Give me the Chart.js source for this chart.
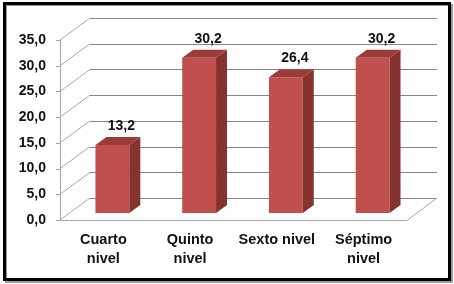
<!DOCTYPE html>
<html><head><meta charset="utf-8">
<script src="https://cdn.jsdelivr.net/npm/chart.js@4/dist/chart.umd.min.js"></script>
<style>html,body{margin:0;padding:0;background:#fff;}canvas{display:block;}</style>
</head><body>
<canvas id="c" width="454" height="284"></canvas>
<script>
const categories = [["Cuarto", "nivel"], ["Quinto", "nivel"], "Sexto nivel", ["Séptimo", "nivel"]];
const values = [13.2, 30.2, 26.4, 30.2];
const yMin = 0, yMax = 35, yStep = 5;
const fmt = v => v.toFixed(1).replace('.', ',');

const FONT = '"Liberation Sans", Arial, sans-serif';
const WALL_DX = 30, WALL_DY = -22;
const BAR_OX = 9, BAR_OY = -7;
const BAR_DX = 11, BAR_DY = -8;
const FRONT = '#C0504D', SIDE = '#86332F', TOP = '#9C3C39';
const GRID = '#858585', WALL = '#a6a6a6';

const px = v => Math.round(v) + 0.5;

const threeD = {
  id: 'threeD',
  beforeDraw(chart) {
    const ctx = chart.ctx;
    ctx.save();
    ctx.strokeStyle = '#9a9a9a';
    ctx.lineWidth = 2;
    ctx.strokeRect(6, 5, 446, 277);
    ctx.strokeStyle = '#000';
    ctx.lineWidth = 3;
    ctx.strokeRect(4.5, 3.5, 445, 276);
    ctx.restore();
  },
  beforeDatasetsDraw(chart) {
    const ctx = chart.ctx, x = chart.scales.x, y = chart.scales.y;
    const L = x.left, R = x.right;
    ctx.save();
    ctx.lineWidth = 1;
    y.ticks.forEach(t => {
      const yy = y.getPixelForValue(t.value);
      ctx.strokeStyle = GRID;
      ctx.beginPath();
      ctx.moveTo(L + WALL_DX, px(yy + WALL_DY));
      ctx.lineTo(R + WALL_DX, px(yy + WALL_DY));
      ctx.stroke();
      ctx.strokeStyle = WALL;
      ctx.beginPath();
      ctx.moveTo(L, yy);
      ctx.lineTo(L + WALL_DX, yy + WALL_DY);
      ctx.stroke();
      ctx.beginPath();
      ctx.moveTo(L - 4, px(yy));
      ctx.lineTo(L, px(yy));
      ctx.stroke();
    });
    ctx.strokeStyle = WALL;
    ctx.beginPath();
    ctx.moveTo(px(L), y.getPixelForValue(yMax));
    ctx.lineTo(px(L), y.getPixelForValue(yMin));
    ctx.stroke();
    const y0 = y.getPixelForValue(yMin);
    ctx.beginPath();
    ctx.moveTo(L, px(y0));
    ctx.lineTo(R, px(y0));
    ctx.lineTo(R + WALL_DX, y0 + WALL_DY);
    ctx.stroke();
    ctx.restore();
    ctx.save();
    ctx.translate(BAR_OX, BAR_OY);
  },
  afterDatasetsDraw(chart) {
    const ctx = chart.ctx;
    const meta = chart.getDatasetMeta(0);
    meta.data.forEach(bar => {
      const p = bar.getProps(['x', 'y', 'base', 'width'], true);
      const l = p.x - p.width / 2, r = p.x + p.width / 2;
      ctx.fillStyle = SIDE;
      ctx.beginPath();
      ctx.moveTo(r, p.base);
      ctx.lineTo(r, p.y);
      ctx.lineTo(r + BAR_DX, p.y + BAR_DY);
      ctx.lineTo(r + BAR_DX, p.base + BAR_DY);
      ctx.closePath();
      ctx.fill();
      ctx.fillStyle = TOP;
      ctx.beginPath();
      ctx.moveTo(l, p.y);
      ctx.lineTo(r, p.y);
      ctx.lineTo(r + BAR_DX, p.y + BAR_DY);
      ctx.lineTo(l + BAR_DX, p.y + BAR_DY);
      ctx.closePath();
      ctx.fill();
    });
    ctx.restore();
    ctx.save();
    ctx.fillStyle = '#111';
    ctx.font = 'bold 14px ' + FONT;
    ctx.textAlign = 'center';
    ctx.textBaseline = 'middle';
    meta.data.forEach((bar, i) => {
      const p = bar.getProps(['x', 'y'], true);
      ctx.fillText(fmt(values[i]), p.x + 18, p.y - 26);
    });
    ctx.restore();
  }
};

new Chart(document.getElementById('c'), {
  type: 'bar',
  data: {
    labels: categories,
    datasets: [{
      data: values,
      backgroundColor: FRONT,
      borderWidth: 0,
      barPercentage: 0.39,
      categoryPercentage: 1,
      clip: false
    }]
  },
  options: {
    responsive: false,
    animation: false,
    devicePixelRatio: 1,
    layout: { padding: { left: 0, right: 47, top: 40, bottom: 0 } },
    plugins: { legend: { display: false }, tooltip: { enabled: false } },
    scales: {
      x: {
        offset: true,
        grid: { display: false, drawTicks: false },
        border: { display: false },
        ticks: { color: '#111', font: { family: FONT, size: 14.5, weight: 'bold', lineHeight: 1.32 }, padding: 10, maxRotation: 0, autoSkip: false },
        afterFit(s) { s.height = 64; }
      },
      y: {
        min: yMin, max: yMax,
        grid: { display: false, drawTicks: false },
        border: { display: false },
        ticks: { stepSize: yStep, color: '#111', font: { family: FONT, size: 14, weight: 'bold' }, padding: 14, callback: v => fmt(v) },
        afterFit(s) { s.width = 60; }
      }
    }
  },
  plugins: [threeD]
});
</script>
</body></html>
